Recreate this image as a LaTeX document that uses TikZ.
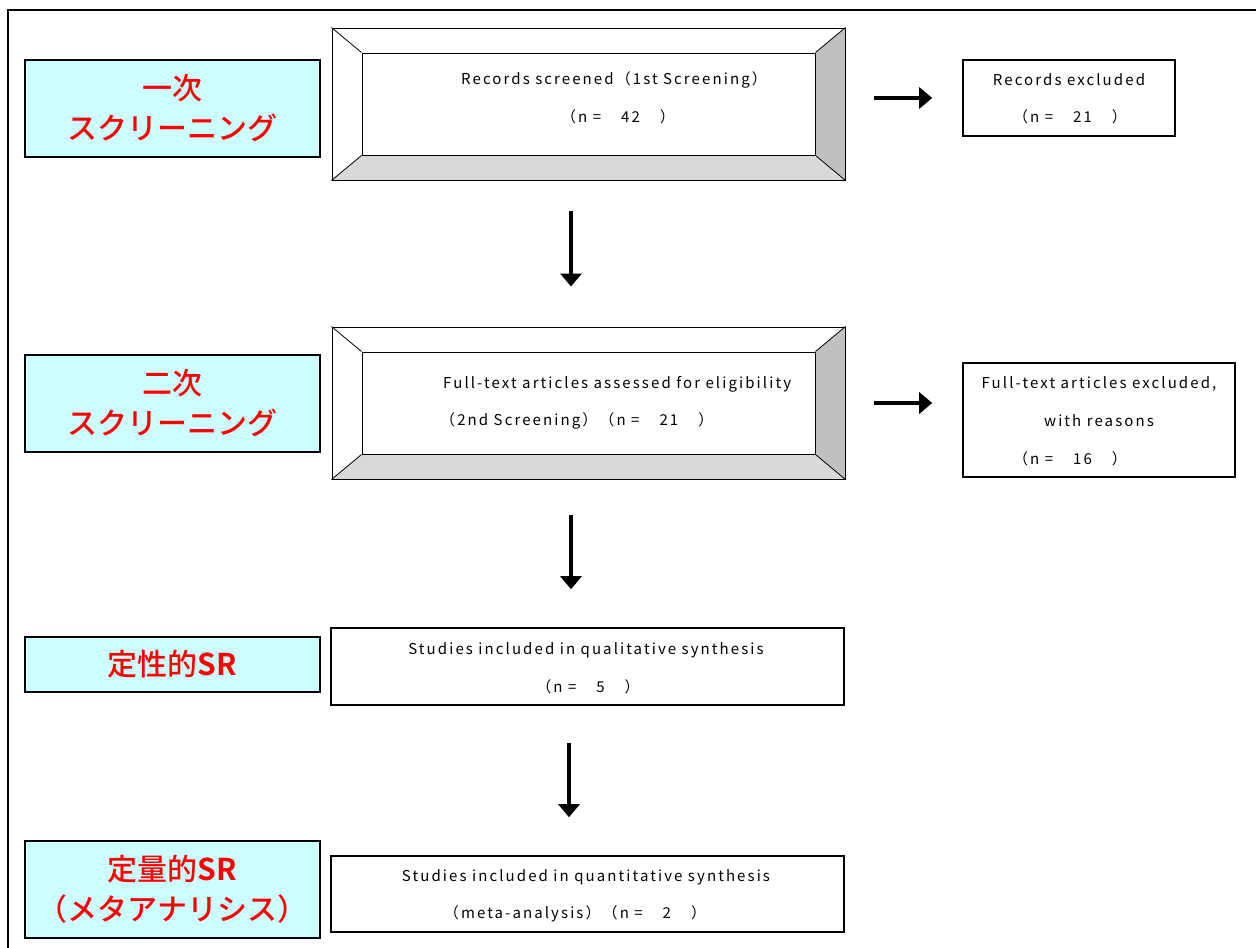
\documentclass[tikz,border=0pt]{standalone}
\usepackage{fontspec}
\setmainfont{Noto Sans CJK JP}
\newfontfamily\tfont[LetterSpace=14]{Noto Sans CJK JP}
\newfontfamily\lblfont{Noto Sans CJK JP}[UprightFont={* Medium}, BoldFont={* Bold}]
\usetikzlibrary{arrows.meta,backgrounds}
\definecolor{lblfill}{HTML}{CCFFFF}
\definecolor{bevR}{HTML}{C0C0C0}
\definecolor{bevB}{HTML}{D9D9D9}
\newcommand\gap{\hspace{20pt}}
\tikzset{
  lbl/.style={draw, line width=2.5pt, fill=lblfill, minimum width=295pt,
    text=red, font=\fontsize{30}{40}\selectfont\lblfont, align=center,
    inner sep=0pt},
  outerbox/.style={draw, line width=1pt, minimum width=513pt, minimum height=152pt, inner sep=0pt},
  innerbox/.style={draw, line width=1pt, minimum width=453pt, minimum height=102pt, inner sep=0pt},
  plainbox/.style={draw, line width=1.6pt, inner sep=0pt},
  txt/.style={font=\fontsize{15}{17}\selectfont\tfont, inner sep=0pt},
  arr/.style={line width=4pt, -{Triangle[width=21pt,length=13pt]}},
}
\begin{document}
\begin{tikzpicture}[x=1pt,y=-1pt]
\useasboundingbox (0,0) rectangle (1256,948);
% outer frame
\draw[line width=2pt] (8,948) -- (8,10) -- (1256,10);

% stage labels
\node[lbl, minimum height=97pt] (l1) at (172.5,108.5) {一次\\スクリーニング};
\node[lbl, minimum height=97pt] (l2) at (172.5,403.5) {二次\\スクリーニング};
\node[lbl, minimum height=55pt] (l3) at (172.5,664.5) {定性的\textbf{SR}};
\node[lbl, minimum height=97pt] (l4) at (172.5,889.5) {定量的\textbf{SR}\\（メタアナリシス）};

% bevelled boxes
\node[outerbox] (b1o) at (588.5,104) {};
\node[innerbox] (b1i) at (588.5,104) {};
\node[outerbox] (b2o) at (588.5,403) {};
\node[innerbox] (b2i) at (588.5,403) {};
\begin{scope}[on background layer]
  \foreach \b in {b1,b2}{
    \fill[bevR] (\b o.north east) -- (\b o.south east) -- (\b i.south east) -- (\b i.north east) -- cycle;
    \fill[bevB] (\b o.south west) -- (\b o.south east) -- (\b i.south east) -- (\b i.south west) -- cycle;
  }
\end{scope}
\foreach \b in {b1,b2}{
  \foreach \c in {north east,north west,south east,south west}
    \draw[line width=0.8pt] (\b o.\c) -- (\b i.\c);
}

% box texts
\node[txt] (t1a) at (614,80) {Records screened（1st Screening）};
\node[txt] (t1b) at (618,117) {（n =\gap 42\gap ）};
\node[txt, anchor=west] (t2a) at (443,384) {Full-text articles assessed for eligibility};
\node[txt, anchor=west] (t2b) at (440,421) {（2nd Screening）（n =\gap 21\gap ）};

% excluded boxes
\node[plainbox, minimum width=212pt, minimum height=76pt] (r1) at (1069,98) {};
\node[txt] (r1a) at (1069,80) {Records excluded};
\node[txt] (r1b) at (1070,117) {（n =\gap 21\gap ）};
\node[plainbox, minimum width=272pt, minimum height=114pt] (r2) at (1099,420) {};
\node[txt] (r2a) at (1099,384) {Full-text articles excluded,};
\node[txt] (r2b) at (1099,421) {with reasons};
\node[txt] (r2c) at (1070,459) {（n =\gap 16\gap ）};

% synthesis boxes
\node[plainbox, minimum width=513pt, minimum height=77pt] (s1) at (587.5,666.5) {};
\node[txt] (s1a) at (586,650) {Studies included in qualitative synthesis};
\node[txt] (s1b) at (588,687) {（n =\gap 5\gap ）};
\node[plainbox, minimum width=513pt, minimum height=76pt] (s2) at (587.5,894) {};
\node[txt] (s2a) at (586,877) {Studies included in quantitative synthesis};
\node[txt] (s2b) at (575,914) {（meta-analysis）（n =\gap 2\gap ）};

% arrows
\draw[arr, shorten <=28pt, shorten >=30pt] (b1o.east |- r1.west) -- (r1.west);
\draw[arr, shorten <=28pt, shorten >=30pt] (b2o.east) -- (b2o.east -| r2.west);
\draw[arr, shorten <=30pt, shorten >=40pt] ([xshift=-17.5pt]b1o.south) -- ([xshift=-17.5pt]b2o.north);
\draw[arr, shorten <=35pt, shorten >=38pt] ([xshift=-17.5pt]b2o.south) -- ([xshift=-16.5pt]s1.north);
\draw[arr, shorten <=37pt, shorten >=38pt] ([xshift=-18.5pt]s1.south) -- ([xshift=-18.5pt]s2.north);
\end{tikzpicture}
\end{document}
